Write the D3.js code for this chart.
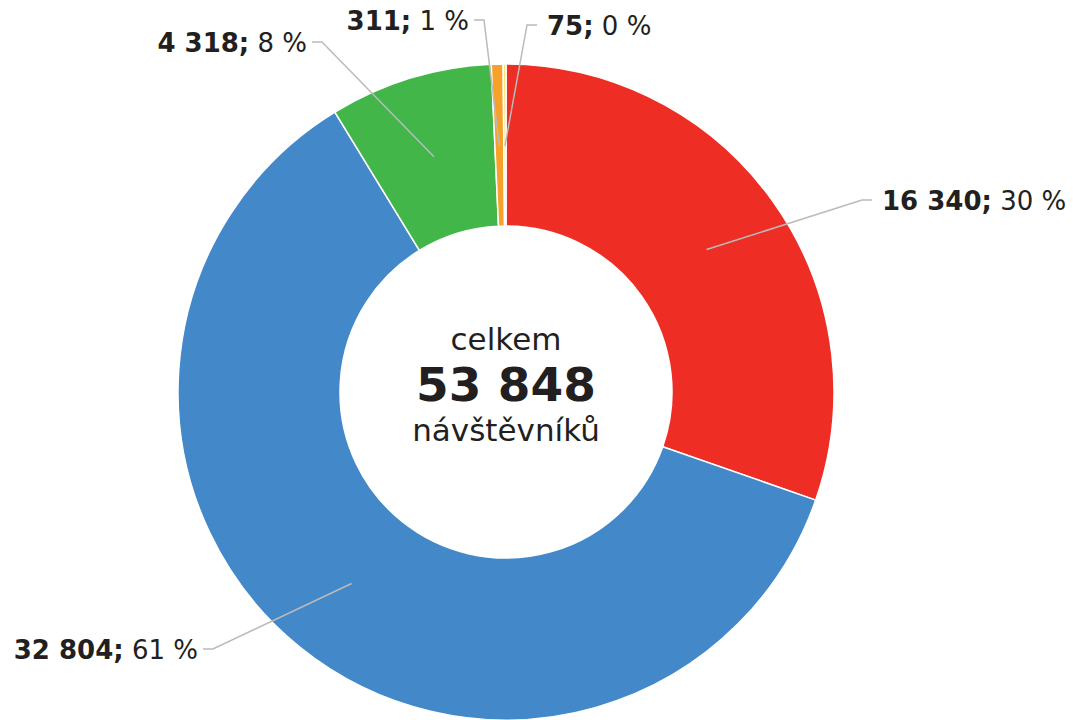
<!DOCTYPE html>
<html>
<head>
<meta charset="utf-8">
<script src="https://cdn.jsdelivr.net/npm/d3@7"></script>
<style>
  body { margin: 0; background: #fff; }
  svg text { font-family: "DejaVu Sans", Verdana, sans-serif; fill: #231f20; }
</style>
</head>
<body>
<svg id="chart" width="1073" height="720"></svg>
<script>
// data
const values = [16340, 32804, 4318, 311, 75];
const percents = ["30 %", "61 %", "8 %", "1 %", "0 %"];
const colors = ["#ee2e24", "#4388c8", "#43b649", "#f7a12a", "#f6e27a"];
const totalLabel = ["celkem", "53 848", "návštěvníků"];

// label elbows relative to centre (layout only)
const elbows = [[356, -192], [-293, 257], [-184, -350], [-22, -372], [21, -367]];
const side = [1, -1, -1, -1, 1];

const width = 1073, height = 720;
const cx = 506, cy = 392;
const outerR = 328, innerR = 166, lineR = 246;

const svg = d3.select('#chart');
const g = svg.append('g').attr('transform', `translate(${cx},${cy})`);

const pie = d3.pie().sort(null).value(d => d);
const arcs = pie(values);
const arc = d3.arc().innerRadius(innerR).outerRadius(outerR);

g.selectAll('path.slice')
  .data(arcs)
  .enter()
  .append('path')
  .attr('class', 'slice')
  .attr('d', arc)
  .attr('fill', (d, i) => colors[i])
  .attr('stroke', '#fff')
  .attr('stroke-width', 1.5);

// leader lines + labels
arcs.forEach((d, i) => {
  const a = (d.startAngle + d.endAngle) / 2;
  const sx = lineR * Math.sin(a), sy = -lineR * Math.cos(a);
  const [ex, ey] = elbows[i];
  const hx = ex + side[i] * 10;
  g.append('polyline')
    .attr('points', [[sx, sy], [ex, ey], [hx, ey]].map(p => p.join(',')).join(' '))
    .attr('fill', 'none')
    .attr('stroke', '#bbbbbb')
    .attr('stroke-width', 1.5);

  const t = g.append('text')
    .attr('x', hx + (side[i] > 0 ? 10 : -5))
    .attr('y', ey)
    .attr('dy', '0.38em')
    .attr('text-anchor', side[i] > 0 ? 'start' : 'end')
    .style('font-size', '26px');
  t.append('tspan')
    .style('font-weight', 'bold')
    .text(d3.format(',')(values[i]).replace(/,/g, ' ') + ';');
  t.append('tspan').text(' ' + percents[i]);
});

// centre text
g.append('text').attr('text-anchor', 'middle').attr('y', -42)
  .style('font-size', '31px').text(totalLabel[0]);
g.append('text').attr('text-anchor', 'middle').attr('y', 9)
  .style('font-size', '47px').style('font-weight', 'bold').text(totalLabel[1]);
g.append('text').attr('text-anchor', 'middle').attr('y', 49)
  .style('font-size', '31px').text(totalLabel[2]);
</script>
</body>
</html>
